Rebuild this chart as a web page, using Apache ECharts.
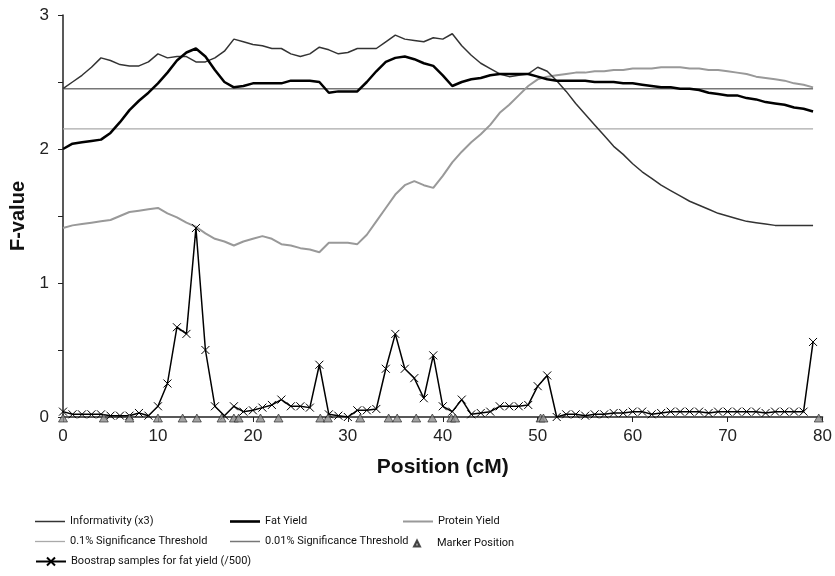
<!DOCTYPE html>
<html>
<head>
<meta charset="utf-8">
<script src="https://cdn.jsdelivr.net/npm/echarts@6/dist/echarts.min.js"></script>
<style>
html,body{margin:0;padding:0;background:#fff;}
#chart{width:835px;height:576px;}
</style>
</head>
<body>
<div id="chart"></div>
<script>
// Data (positions in cM)
const positions = [0,1,2,3,4,5,6,7,8,9,10,11,12,13,14,15,16,17,18,19,20,21,22,23,24,25,26,27,28,29,30,31,32,33,34,35,36,37,38,39,40,41,42,43,44,45,46,47,48,49,50,51,52,53,54,55,56,57,58,59,60,61,62,63,64,65,66,67,68,69,70,71,72,73,74,75,76,77,78,79];
const informativity = [2.45,2.50,2.55,2.61,2.68,2.66,2.63,2.62,2.62,2.65,2.71,2.68,2.69,2.69,2.65,2.65,2.68,2.73,2.82,2.80,2.78,2.77,2.75,2.75,2.71,2.69,2.71,2.76,2.74,2.71,2.72,2.75,2.75,2.75,2.80,2.85,2.82,2.81,2.80,2.83,2.82,2.86,2.77,2.70,2.64,2.60,2.56,2.54,2.55,2.56,2.61,2.58,2.51,2.43,2.34,2.26,2.18,2.10,2.02,1.96,1.89,1.83,1.78,1.73,1.69,1.65,1.61,1.58,1.55,1.52,1.50,1.48,1.46,1.45,1.44,1.43,1.43,1.43,1.43,1.43];
const fatYield = [2.00,2.04,2.05,2.06,2.07,2.12,2.20,2.29,2.36,2.42,2.49,2.57,2.66,2.72,2.75,2.69,2.59,2.50,2.46,2.47,2.49,2.49,2.49,2.49,2.51,2.51,2.51,2.50,2.42,2.43,2.43,2.43,2.50,2.58,2.65,2.68,2.69,2.67,2.64,2.62,2.55,2.47,2.50,2.52,2.53,2.55,2.56,2.56,2.56,2.56,2.54,2.52,2.51,2.51,2.51,2.51,2.50,2.50,2.50,2.49,2.49,2.48,2.47,2.46,2.46,2.45,2.45,2.44,2.42,2.41,2.40,2.40,2.38,2.37,2.35,2.34,2.33,2.31,2.30,2.28];
const proteinYield = [1.41,1.43,1.44,1.45,1.46,1.47,1.50,1.53,1.54,1.55,1.56,1.52,1.49,1.45,1.42,1.37,1.33,1.31,1.28,1.31,1.33,1.35,1.33,1.29,1.28,1.26,1.25,1.23,1.30,1.30,1.30,1.29,1.36,1.46,1.56,1.66,1.73,1.76,1.73,1.71,1.80,1.90,1.98,2.05,2.11,2.18,2.27,2.33,2.40,2.47,2.52,2.54,2.55,2.56,2.57,2.57,2.58,2.58,2.59,2.59,2.60,2.60,2.60,2.61,2.61,2.61,2.60,2.60,2.59,2.59,2.58,2.57,2.56,2.54,2.53,2.52,2.51,2.49,2.48,2.46];
const bootstrap = [0.04,0.02,0.02,0.02,0.02,0.01,0.01,0.01,0.03,0.01,0.08,0.25,0.67,0.62,1.41,0.50,0.08,0.01,0.08,0.04,0.05,0.07,0.09,0.13,0.08,0.08,0.07,0.39,0.02,0.01,0.00,0.05,0.05,0.06,0.36,0.62,0.36,0.29,0.14,0.46,0.08,0.04,0.13,0.02,0.03,0.04,0.08,0.08,0.08,0.09,0.23,0.31,0.00,0.02,0.02,0.01,0.02,0.02,0.03,0.03,0.04,0.04,0.02,0.03,0.04,0.04,0.04,0.04,0.03,0.04,0.04,0.04,0.04,0.04,0.03,0.04,0.04,0.04,0.04,0.56];
const markerPositions = [0,4.3,7.0,10.0,12.6,14.1,16.7,18.0,18.5,20.8,22.7,27.1,27.9,31.3,34.3,35.2,37.2,38.9,40.9,41.3,50.3,50.6,79.6];
const thresholdSpan = [0, 79];
const threshold01 = 2.15;   // 0.1% significance
const threshold001 = 2.45;  // 0.01% significance
const xTicks = [0,10,20,30,40,50,60,70,80];
const yLabels = [0,1,2,3];

const pair = (xs, ys) => xs.map((x, i) => [x, ys[i]]);
const hline = (v) => thresholdSpan.map(x => [x, v]);

const NAMES = {
  inf: 'Informativity (x3)',
  fat: 'Fat Yield',
  prot: 'Protein Yield',
  t01: '0.1% Significance Threshold',
  t001: '0.01% Significance Threshold',
  mark: 'Marker Position',
  boot: 'Boostrap samples for fat yield (/500)'
};

const crossPath = 'path://M0,0L10,10M0,10L10,0';
const barIcon = (h) => 'path://M0,0L30,0L30,' + h + 'L0,' + h + 'Z';
const legendFont = {fontFamily: 'Roboto, "Liberation Sans", Arial, sans-serif', fontSize: 11, color: '#111'};

function leg(item, left, top, extra) {
  return Object.assign({
    data: [item], left: left, top: top, itemWidth: 30, itemHeight: 10,
    itemGap: 5, padding: 0, textStyle: legendFont, selectedMode: false
  }, extra || {});
}

const axisFont = '"Liberation Sans", Arial, sans-serif';

const chart = echarts.init(document.getElementById('chart'));
chart.setOption({
  animation: false,
  backgroundColor: '#fff',
  grid: {left: 63, right: 12, top: 15, bottom: 159},
  xAxis: {
    type: 'value', min: 0, max: 80, interval: 10,
    name: 'Position (cM)', nameLocation: 'middle', nameGap: 40,
    nameTextStyle: {fontFamily: axisFont, fontWeight: 'bold', fontSize: 21, color: '#111'},
    axisLine: {lineStyle: {color: '#222', width: 1.5}},
    axisTick: {show: true, length: 5, lineStyle: {color: '#222'}},
    axisLabel: {fontFamily: axisFont, fontSize: 17, color: '#222', margin: 11,
      formatter: v => xTicks.indexOf(v) >= 0 ? String(v) : ''},
    splitLine: {show: false}
  },
  yAxis: {
    type: 'value', min: 0, max: 3, interval: 0.5,
    name: 'F-value', nameLocation: 'middle', nameGap: 30, nameRotate: 90,
    nameTextStyle: {fontFamily: axisFont, fontWeight: 'bold', fontSize: 20, color: '#111'},
    axisLine: {show: true, lineStyle: {color: '#222', width: 1.5}},
    axisTick: {show: true, length: 5, lineStyle: {color: '#222'}},
    axisLabel: {fontFamily: axisFont, fontSize: 17, color: '#222', margin: 14,
      formatter: v => yLabels.indexOf(v) >= 0 ? String(v) : ''},
    splitLine: {show: false}
  },
  legend: [
    leg({name: NAMES.inf, icon: barIcon(1.5)}, 35, 516),
    leg({name: NAMES.fat, icon: barIcon(2.6)}, 230, 516),
    leg({name: NAMES.prot, icon: barIcon(2)}, 403, 516),
    leg({name: NAMES.t01, icon: barIcon(1.3)}, 35, 536),
    leg({name: NAMES.t001, icon: barIcon(1.5)}, 230, 536),
    leg({name: NAMES.mark, icon: 'triangle'}, 413, 538,
        {itemWidth: 6, itemHeight: 6, textStyle: Object.assign({}, legendFont, {padding: [0, 0, 0, 12]})}),
    leg({name: NAMES.boot}, 35, 556)
  ],
  series: [
    {name: NAMES.t01, type: 'line', data: hline(threshold01), symbol: 'none',
     lineStyle: {color: '#aaaaaa', width: 1.2}, itemStyle: {color: '#aaaaaa'}, z: 1},
    {name: NAMES.t001, type: 'line', data: hline(threshold001), symbol: 'none',
     lineStyle: {color: '#777777', width: 1.5}, itemStyle: {color: '#777777'}, z: 1},
    {name: NAMES.prot, type: 'line', data: pair(positions, proteinYield), symbol: 'none',
     lineStyle: {color: '#999999', width: 2}, itemStyle: {color: '#999999'}, z: 2},
    {name: NAMES.inf, type: 'line', data: pair(positions, informativity), symbol: 'none',
     lineStyle: {color: '#333333', width: 1.5}, itemStyle: {color: '#333333'}, z: 3},
    {name: NAMES.fat, type: 'line', data: pair(positions, fatYield), symbol: 'none',
     lineStyle: {color: '#000000', width: 2.5}, itemStyle: {color: '#000000'}, z: 4},
    {name: NAMES.boot, type: 'line', data: pair(positions, bootstrap), symbol: crossPath, symbolSize: 8,
     showSymbol: true,
     lineStyle: {color: '#000000', width: 1.5},
     itemStyle: {color: '#000000', borderColor: '#000000', borderWidth: 1}, z: 5},
    {name: NAMES.mark, type: 'scatter', data: markerPositions.map(x => [x, 0]), symbol: 'triangle',
     symbolSize: [9, 8], symbolOffset: [0, 1],
     itemStyle: {color: '#8c8c8c', borderColor: '#222222', borderWidth: 0.8}, z: 6}
  ]
});
</script>
</body>
</html>
